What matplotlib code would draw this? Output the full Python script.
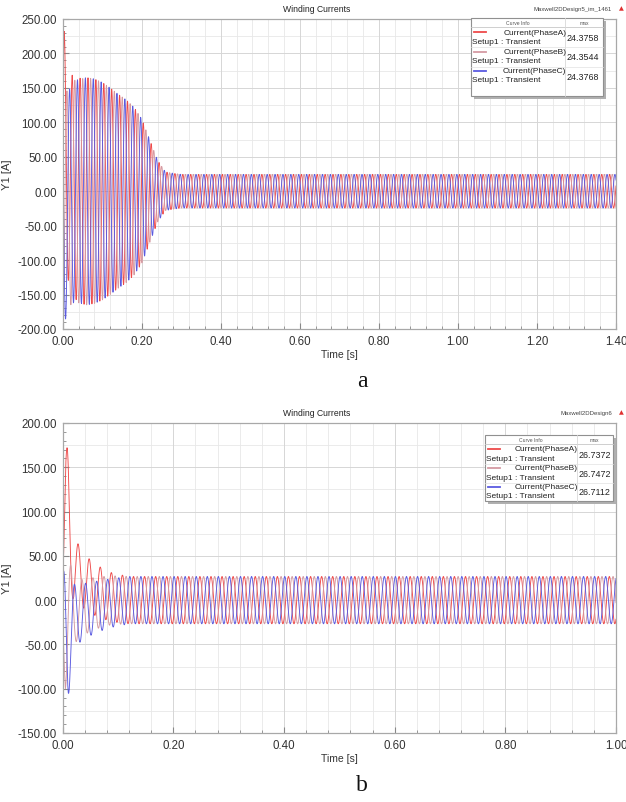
import numpy as np
import matplotlib
matplotlib.use("Agg")
import matplotlib.pyplot as plt
from matplotlib.ticker import MultipleLocator, FormatStrFormatter
from matplotlib.patches import Rectangle
from matplotlib.lines import Line2D

W, H = 626, 803

# ---- values ----
FREQ = 50.0          # supply frequency [Hz]
DT = 1.0 / 5000.0    # sample step [s]
phases = ["PhaseA", "PhaseB", "PhaseC"]
colors = ["#ee4a4a", "#d49aa2", "#5a5ae0"]

# panel a : induction motor start, 0 .. 1.4 s
a_tend = 1.40
a_phase0 = np.deg2rad(18.0)
a_env_t = [0.0, 0.01, 0.02, 0.04, 0.06, 0.08, 0.10, 0.12, 0.14, 0.16, 0.18, 0.20, 0.22, 0.24, 0.26, 0.28, 0.30, 1.40]
a_env_amp = [150, 155, 160, 162, 165, 163, 158, 150, 141, 133, 122, 105, 75, 45, 28, 26, 24.4, 24.4]
a_ofs_t = [0.0, 0.004, 0.01, 0.02, 0.03, 0.05]
a_ofs = {"PhaseA": [60, 80, 40, 10, 5, 0],
         "PhaseB": [-10, -20, -10, -5, 0, 0],
         "PhaseC": [-20, -40, -25, -5, 0, 0]}
a_max = ["24.3758", "24.3544", "24.3768"]

# panel b : 0 .. 1.0 s
b_tend = 1.00
b_phase0 = np.deg2rad(-54.0)
b_env_t = [0.0, 0.005, 0.0085, 0.02, 0.03, 0.05, 0.07, 0.09, 0.12, 1.00]
b_env_amp = [40, 75, 75, 38, 33, 30, 28.5, 27.5, 26.7, 26.7]
b_ofs_t = [0.0, 0.005, 0.01, 0.02, 0.03, 0.05, 0.07, 0.09, 0.12]
b_ofs = {"PhaseA": [60, 100, 95, 35, 28, 15, 8, 3, 0],
         "PhaseB": [-20, -25, -20, -12, -10, -5, -2, 0, 0],
         "PhaseC": [-10, -35, -40, -20, -15, -10, -6, -3, 0]}
b_max = ["26.7372", "26.7472", "26.7112"]


def currents(tend, phase0, env_t, env_amp, ofs_t, ofs):
    t = np.arange(0, tend + DT / 2, DT)
    amp = np.interp(t, env_t, env_amp)
    out = []
    for k, ph in enumerate(phases):
        shift = phase0 - k * 2 * np.pi / 3
        off = np.interp(t, ofs_t, ofs[ph], right=0.0)
        out.append(amp * np.sin(2 * np.pi * FREQ * t + shift) + off)
    return t, out


def fx(x):
    return x / W


def fy(y):
    return 1 - y / H


plt.rcParams["font.family"] = ["Liberation Sans", "DejaVu Sans"]
fig = plt.figure(figsize=(W / 100, H / 100), dpi=100)


def panel(top, bottom, tend, ylim, t, cur, design, maxes, box, rows_y, letter, letter_y):
    ax = fig.add_axes([fx(62.7), fy(bottom), fx(616) - fx(62.7), fy(top) - fy(bottom)])
    for c, y in zip(colors, cur):
        ax.plot(t, y, color=c, lw=0.65)
    ax.set_xlim(0, tend)
    ax.set_ylim(*ylim)
    ax.xaxis.set_major_locator(MultipleLocator(0.2))
    ax.xaxis.set_minor_locator(MultipleLocator(0.04))
    ax.yaxis.set_major_locator(MultipleLocator(50))
    ax.yaxis.set_minor_locator(MultipleLocator(10))
    ax.xaxis.set_major_formatter(FormatStrFormatter("%.2f"))
    ax.yaxis.set_major_formatter(FormatStrFormatter("%.2f"))
    ax.grid(True, which="major", color="#d6d6d6", lw=0.7)
    ax.grid(True, which="minor", axis="x", color="#e8e8e8", lw=0.6)
    for v in np.arange(ylim[0] + 25, ylim[1], 50):
        ax.axhline(v, color="#e8e8e8", lw=0.6, zorder=0)
    ax.set_axisbelow(True)
    ax.tick_params(which="both", direction="in", colors="#888888", labelcolor="#333333")
    ax.tick_params(which="major", length=4, labelsize=8.3, pad=4)
    ax.tick_params(which="minor", length=2)
    for s in ax.spines.values():
        s.set_color("#a8a8a8")
        s.set_linewidth(0.9)
    ax.set_xlabel("Time [s]", fontsize=7.5, color="#333333", labelpad=2)
    ax.set_ylabel("Y1 [A]", fontsize=8, color="#333333")
    ax.yaxis.set_label_coords(-0.091, 0.5)

    fig.text(fx(317), fy(top - 10.5), "Winding Currents", fontsize=6.2, ha="center", va="center", color="#222222")
    fig.text(fx(612), fy(top - 10.5), design, fontsize=4.3, ha="right", va="center", color="#444444")
    fig.text(fx(621), fy(top - 11.5), "\u25b2", fontsize=4.5, ha="center", va="center", color="#e03030",
             family=["DejaVu Sans"])

    # curve info box
    x0, y0, x1, y1 = box
    fig.patches.append(Rectangle((fx(x0 + 2.5), fy(y1 + 2.5)), fx(x1 - x0), fy(y0) - fy(y1),
                                 transform=fig.transFigure, facecolor="#b0b0b0", edgecolor="none", zorder=5))
    fig.patches.append(Rectangle((fx(x0), fy(y1)), fx(x1 - x0), fy(y0) - fy(y1),
                                 transform=fig.transFigure, facecolor="white", edgecolor="#909090",
                                 lw=0.8, zorder=6))
    xs = x0 + (x1 - x0) * 0.715
    fig.lines.append(Line2D([fx(x0), fx(x1)], [fy(y0 + 8.5), fy(y0 + 8.5)], transform=fig.transFigure,
                            color="#c8c8c8", lw=0.6, zorder=7))
    fig.lines.append(Line2D([fx(xs), fx(xs)], [fy(y0), fy(y1)], transform=fig.transFigure,
                            color="#d8d8d8", lw=0.6, zorder=7))
    fig.text(fx((x0 + xs) / 2), fy(y0 + 4.5), "Curve Info", fontsize=3.6, ha="center", va="center",
             color="#555555", zorder=8)
    fig.text(fx((xs + x1) / 2), fy(y0 + 4.5), "max", fontsize=3.6, ha="center", va="center",
             color="#555555", zorder=8)
    for k, ph in enumerate(phases):
        ry = rows_y[k]
        fig.lines.append(Line2D([fx(x0 + 3), fx(x0 + 15)], [fy(ry), fy(ry)], transform=fig.transFigure,
                                color=colors[k], lw=1.3, zorder=8))
        fig.text(fx(xs + 1), fy(ry), "Current(%s)" % ph, fontsize=6.0, ha="right", va="center",
                 color="#222222", zorder=8)
        fig.text(fx(x0 + 1.5), fy(ry + 9.2), "Setup1 : Transient", fontsize=6.0, ha="left", va="center",
                 color="#222222", zorder=8)
        fig.text(fx(xs + 1.5), fy(ry + 5.5), maxes[k], fontsize=6.4, ha="left", va="center",
                 color="#222222", zorder=8)
        if k < 2:
            sep = ry + 15
            fig.lines.append(Line2D([fx(x0), fx(x1)], [fy(sep), fy(sep)], transform=fig.transFigure,
                                    color="#e2e2e2", lw=0.5, zorder=7))
    fig.text(fx(362), fy(letter_y), letter, fontsize=17, ha="center", va="center",
             family=["Liberation Serif"], color="#111111")
    return ax


ta, cur_a = currents(a_tend, a_phase0, a_env_t, a_env_amp, a_ofs_t, a_ofs)
tb, cur_b = currents(b_tend, b_phase0, b_env_t, b_env_amp, b_ofs_t, b_ofs)

panel(20, 330, a_tend, (-200, 250), ta, cur_a, "Maxwell2DDesign5_im_1461", a_max,
      (471, 19, 603, 97), [33.3, 52.5, 71.7], "a", 382)
panel(424, 734, b_tend, (-150, 200), tb, cur_b, "Maxwell2DDesign6", b_max,
      (485, 436, 613, 502), [450, 469, 487.5], "b", 786)

fig.savefig("out.png", dpi=100)
